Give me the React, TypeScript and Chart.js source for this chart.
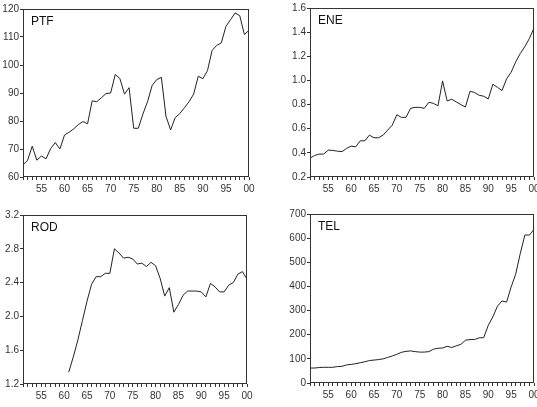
import React, { useEffect, useRef } from 'react';
import { Chart, registerables } from 'chart.js';
Chart.register(...registerables);

const FONT = '"Liberation Sans", Arial, Helvetica, sans-serif';

const YEARS = [
  1951, 1952, 1953, 1954, 1955, 1956, 1957, 1958, 1959, 1960,
  1961, 1962, 1963, 1964, 1965, 1966, 1967, 1968, 1969, 1970,
  1971, 1972, 1973, 1974, 1975, 1976, 1977, 1978, 1979, 1980,
  1981, 1982, 1983, 1984, 1985, 1986, 1987, 1988, 1989, 1990,
  1991, 1992, 1993, 1994, 1995, 1996, 1997, 1998, 1999, 2000,
];

const PTF = [
  64.3, 66, 71, 66, 67.5, 66.5, 70.2, 72.3, 70, 75,
  76, 77.2, 78.7, 79.8, 79, 87.2, 86.9, 88.3, 89.8, 90,
  96.6, 95.2, 89.6, 91.9, 77.4, 77.4, 82.5, 86.9, 92.7, 94.8,
  95.6, 81.7, 76.8, 81.2, 82.7, 84.7, 86.9, 89.6, 96, 95.1,
  98, 105.2, 107, 107.9, 113.8, 116.2, 118.6, 117.6, 110.9, 112.4,
];

const ENE = [
  0.356, 0.378, 0.39, 0.39, 0.423, 0.42, 0.414, 0.41, 0.437, 0.456,
  0.45, 0.5, 0.5, 0.547, 0.525, 0.525, 0.547, 0.589, 0.63, 0.716,
  0.694, 0.694, 0.769, 0.777, 0.777, 0.769, 0.819, 0.81, 0.79, 0.996,
  0.83, 0.844, 0.822, 0.8, 0.78, 0.91, 0.9, 0.877, 0.869, 0.847,
  0.968, 0.943, 0.916, 1.013, 1.068, 1.154, 1.223, 1.28, 1.348, 1.434,
];

const ROD = [
  null, null, null, null, null, null, null, null, null, null,
  1.34, 1.52, 1.72, 1.95, 2.18, 2.38, 2.47, 2.47, 2.51, 2.51,
  2.8, 2.75, 2.69, 2.7, 2.68, 2.62, 2.63, 2.59, 2.64, 2.6,
  2.45, 2.24, 2.34, 2.05, 2.14, 2.25, 2.3, 2.3, 2.3, 2.29,
  2.23, 2.39, 2.35, 2.29, 2.29, 2.37, 2.4, 2.5, 2.53, 2.44,
];

const TEL = [
  62, 62, 64, 65, 65, 65, 68, 69, 75, 77,
  80, 84, 88, 93, 95, 97, 100, 106, 112, 119,
  127, 131, 133, 130, 128, 128, 130, 140, 144, 145,
  152, 147, 154, 160, 177, 180, 180, 187, 188, 239,
  274, 318, 340, 335, 398, 451, 537, 613, 613, 636,
];

type PanelProps = {
  left: number; top: number; width: number; height: number;
  yWidth: number; xHeight: number; padTop: number; padRight: number;
  title: string; values: (number | null)[];
  min: number; max: number; step: number; decimals: number;
};

function Panel(p: PanelProps) {
  const ref = useRef<HTMLCanvasElement | null>(null);
  useEffect(() => {
    if (!ref.current) return;
    const boxPlugin = {
      id: 'boxTitle',
      afterDraw(chart: any) {
        const { ctx, chartArea: a } = chart;
        ctx.save();
        ctx.strokeStyle = '#333';
        ctx.lineWidth = 1;
        ctx.strokeRect(Math.round(a.left) + 0.5, Math.round(a.top) + 0.5,
          Math.round(a.right - a.left) - 1, Math.round(a.bottom - a.top) - 1);
        ctx.fillStyle = '#111';
        ctx.font = `12px ${FONT}`;
        ctx.textBaseline = 'alphabetic';
        ctx.textAlign = 'left';
        ctx.fillText(p.title, a.left + 8, a.top + 16);
        ctx.restore();
      },
    };
    const chart = new Chart(ref.current, {
      type: 'line',
      data: {
        labels: YEARS.map(String),
        datasets: [{
          data: p.values,
          borderColor: '#222',
          borderWidth: 1,
          pointRadius: 0,
          tension: 0,
          spanGaps: false,
          fill: false,
        }],
      },
      options: {
        animation: false,
        responsive: false,
        devicePixelRatio: 1,
        layout: { padding: { top: p.padTop, right: p.padRight, left: 0, bottom: 0 } },
        plugins: { legend: { display: false }, tooltip: { enabled: false } },
        scales: {
          x: {
            type: 'category',
            offset: false,
            border: { display: false },
            grid: { drawOnChartArea: false, drawTicks: true, tickLength: 3, color: '#333' },
            ticks: {
              autoSkip: false,
              maxRotation: 0,
              minRotation: 0,
              padding: 3,
              color: '#333',
              font: { family: FONT, size: 10 },
              callback: function (this: any, v: any) {
                const yr = Number(this.getLabelForValue(v));
                return yr % 5 === 0 ? String(yr % 100).padStart(2, '0') : '';
              },
            },
            afterFit: (s: any) => { s.height = p.xHeight; },
          },
          y: {
            min: p.min,
            max: p.max,
            border: { display: false },
            grid: { drawOnChartArea: false, drawTicks: true, tickLength: 3, color: '#333' },
            ticks: {
              stepSize: p.step,
              padding: 1,
              color: '#333',
              font: { family: FONT, size: 10 },
              callback: (v: any) => Number(v).toFixed(p.decimals),
            },
            afterFit: (s: any) => { s.width = p.yWidth; },
          },
        },
      },
      plugins: [boxPlugin],
    } as any);
    return () => chart.destroy();
  }, []);
  return (
    <div style={{ position: 'absolute', left: p.left, top: p.top, width: p.width, height: p.height }}>
      <canvas ref={ref} width={p.width} height={p.height} style={{ width: p.width, height: p.height, display: 'block' }} />
    </div>
  );
}

export default function App() {
  return (
    <div style={{ position: 'fixed', left: 0, top: 0, width: 537, height: 407, overflow: 'hidden', background: '#fff' }}>
      <Panel left={0} top={0} width={268} height={200} yWidth={23} xHeight={23} padTop={9} padRight={19}
        title="PTF" values={PTF} min={60} max={120} step={10} decimals={0} />
      <Panel left={268} top={0} width={285} height={200} yWidth={42} xHeight={23} padTop={8} padRight={19}
        title="ENE" values={ENE} min={0.2} max={1.6} step={0.2} decimals={1} />
      <Panel left={0} top={200} width={268} height={207} yWidth={23} xHeight={23} padTop={15} padRight={21}
        title="ROD" values={ROD} min={1.2} max={3.2} step={0.4} decimals={1} />
      <Panel left={268} top={200} width={285} height={207} yWidth={42} xHeight={24} padTop={14} padRight={19}
        title="TEL" values={TEL} min={0} max={700} step={100} decimals={0} />
    </div>
  );
}
